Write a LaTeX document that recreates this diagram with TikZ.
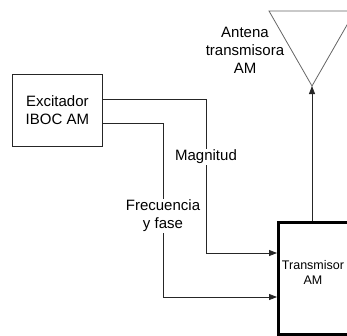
\documentclass[tikz,border=0pt]{standalone}
\usepackage{fontspec}
\setmainfont{Liberation Sans}
\usetikzlibrary{arrows.meta}
\begin{document}
\begin{tikzpicture}[x=1pt,y=-1pt,
  line/.style={draw=black!85,line width=0.8pt},
  arr/.style={line,-{Triangle[length=8pt,width=6pt]}},
  lbl/.style={align=center,font=\fontsize{15}{18}\selectfont,inner sep=1pt},
  small/.style={align=center,font=\fontsize{12.5}{15}\selectfont,inner sep=0pt}]
\useasboundingbox (0,0) rectangle (347,335);
\clip (0,0) rectangle (347,335);
% exciter
\node[draw=black!85,line width=0.8pt,minimum width=90pt,minimum height=72pt,lbl,anchor=north west] (exc) at (12,74) {Excitador\\IBOC AM};
% transmitter
\node[draw,line width=2.6pt,minimum width=90pt,minimum height=112pt,anchor=north west,inner sep=0pt] (tx) at (277,221) {};
\node[small] (txt) at (313,272) {Transmisor\\AM};
% antenna
\draw[draw=gray!80!black,line width=0.8pt] (269,11) -- (312,86) -- (355,11) -- cycle;
\coordinate (ant) at (312,86);
\node[lbl] (antl) at (245,50) {Antena\\transmisora\\AM};
% labels
\node[lbl,fill=white] (mag) at (206,157) {Magnitud};
\node[lbl,fill=white] (fre) at (163,216) {Frecuencia\\y fase};
% connectors
\coordinate (a1) at (206,99);
\coordinate (a2) at (206,253);
\coordinate (b1) at (163,123);
\coordinate (b2) at (163,297);
\draw[line] (exc.east |- a1) -- (a1) -- (mag.north);
\draw[arr] (mag.south) -- (a2) -- (tx.west |- a2);
\draw[line] (exc.east |- b1) -- (b1) -- (fre.north);
\draw[arr] (fre.south) -- (b2) -- (tx.west |- b2);
\draw[arr] (tx.north -| ant) -- (ant);
\end{tikzpicture}
\end{document}
